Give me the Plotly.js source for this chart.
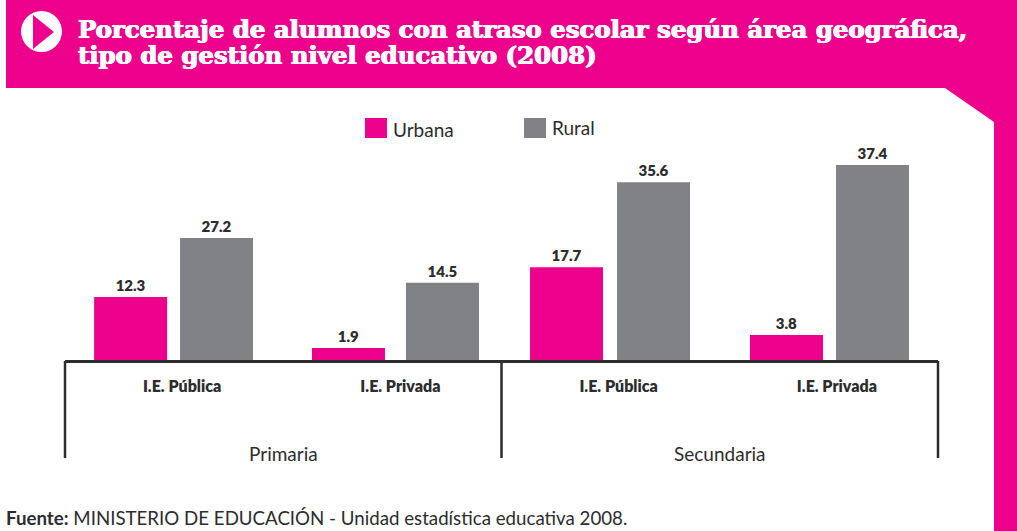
<!DOCTYPE html>
<html><head><meta charset="utf-8">
<script src="https://cdn.plot.ly/plotly-3.0.1.min.js"></script>
<style>html,body{margin:0;padding:0;background:#fff;overflow:hidden}</style>
</head><body><div id="chart" style="width:1017px;height:531px"></div>
<script>
const titleLines = ['Porcentaje de alumnos con atraso escolar según área geográfica,', 'tipo de gestión nivel educativo (2008)'];
const categories = ['Primaria · I.E. Pública', 'Primaria · I.E. Privada', 'Secundaria · I.E. Pública', 'Secundaria · I.E. Privada'];
const tickLabels = ['I.E. Pública', 'I.E. Privada', 'I.E. Pública', 'I.E. Privada'];
const groupLabels = ['Primaria', 'Secundaria'];
const seriesNames = ['Urbana', 'Rural'];
// Printed values, shown as the bar labels.
const urbanaValues = [12.3, 1.9, 17.7, 3.8];
const ruralValues = [27.2, 14.5, 35.6, 37.4];
// The reference's bars are not drawn strictly to scale with their printed labels,
// so these are the bar lengths, in axis units.
const urbanaDrawn = [12.6, 2.8, 18.3, 5.3];
const ruralDrawn = [23.4, 14.8, 34.1, 37.4];
const source = ['Fuente:', ' MINISTERIO DE EDUCACIÓN - Unidad estadística educativa 2008.'];

const W = 1017, H = 531, PINK = '#ec008c', GRAY = '#808285', INK = '#2d2c2e';
const m = {l: 65, r: 79, t: 110, b: 171};
const px = x => (x - m.l) / (W - m.l - m.r);
const py = y => 1 - (y - m.t) / (H - m.t - m.b);
const FONT = 'Lato, sans-serif', SLAB = '"DejaVu Serif", serif';
const SLOT = (W - m.l - m.r) / categories.length;
// Bar placement inside each category slot, in pixels from the slot centre.
const urbanaOffsets = [-80, -80.4, -80.6, -78.9].map(v => v / SLOT);
const ruralOffsets = [5.9, 13.6, 6.4, 7.1].map(v => v / SLOT);

const barTrace = (name, drawn, values, color, base, offset) => ({
  type: 'bar', name, x: categories, y: drawn, base, offset, width: 73 / SLOT,
  text: values.map(v => v.toFixed(1)), textposition: 'outside', cliponaxis: false,
  textfont: {family: FONT, size: 15, color: INK, weight: 800},
  marker: {color, line: {width: 0}}, showlegend: false, hoverinfo: 'skip'
});
const data = [
  barTrace(seriesNames[0], urbanaDrawn, urbanaValues, PINK, -0.5, urbanaOffsets),
  barTrace(seriesNames[1], ruralDrawn, ruralValues, GRAY, 0, ruralOffsets)
];

const poly = pts => 'M' + pts.map(p => px(p[0]) + ',' + py(p[1])).join('L') + 'Z';
const pr = {xref: 'paper', yref: 'paper', layer: 'below'};
const vline = x => ({...pr, type: 'line', x0: px(x), x1: px(x), y0: py(361), y1: py(458), line: {color: INK, width: 2.5}});
const shapes = [
  {...pr, type: 'path', path: poly([[6,-5],[1022,-5],[1022,536],[994,536],[994,122],[945,88],[6,88]]), fillcolor: PINK, line: {width: 0}},
  {...pr, type: 'circle', x0: px(21), x1: px(62), y0: py(11), y1: py(52), fillcolor: '#fff', line: {width: 0}},
  {...pr, type: 'path', path: poly([[33,15],[54,32],[33,49]]), fillcolor: PINK, line: {width: 0}},
  {...pr, type: 'rect', x0: px(365), x1: px(387), y0: py(118), y1: py(138), fillcolor: PINK, line: {width: 0}},
  {...pr, type: 'rect', x0: px(524), x1: px(546), y0: py(118), y1: py(138), fillcolor: GRAY, line: {width: 0}},
  vline(65), vline(501.5), vline(938)
];
const TITLE_SHADOW = '0.6px 0 0 #fff, -0.6px 0 0 #fff, 0 0.4px 0 #fff';
const note = (text, x, y, size, color, family, anchor, shadow) => ({
  text, xref: 'paper', yref: 'paper', x: px(x), y: py(y), xanchor: anchor || 'left', yanchor: 'middle',
  showarrow: false, font: {family: family || FONT, size, color, shadow: shadow || 'none'}
});
const annotations = [
  note('<b>' + titleLines[1] + '</b>', 76, 55, 24.4, '#fff', SLAB, 'left', TITLE_SHADOW),
  note(seriesNames[0], 391, 129, 19, INK),
  note(seriesNames[1], 549.5, 127, 19, INK),
  note(groupLabels[0], 283, 453, 19, INK, FONT, 'center'),
  note(groupLabels[1], 719.5, 453, 19, INK, FONT, 'center'),
  note('<b>' + source[0] + '</b>' + source[1], 4, 518, 18.7, INK)
];

Plotly.newPlot('chart', data, {
  width: W, height: H, margin: m, paper_bgcolor: '#fff', plot_bgcolor: 'rgba(0,0,0,0)',
  title: {text: '<b>' + titleLines[0] + '</b>', font: {family: SLAB, size: 24.4, color: '#fff', shadow: TITLE_SHADOW},
    x: 78 / W, xanchor: 'left', xref: 'container', y: 1 - 29 / H, yanchor: 'middle', yref: 'container'},
  barmode: 'overlay',
  showlegend: false,
  xaxis: {type: 'category', tickmode: 'array', tickvals: categories, ticktext: tickLabels,
    showline: true, linecolor: INK, linewidth: 3, ticks: '', showgrid: false, zeroline: false,
    layer: 'below traces', ticklabelstandoff: 10, ticklabelshift: 8, fixedrange: true,
    tickfont: {family: FONT, size: 16, color: INK, weight: 800}},
  yaxis: {range: [0, 47.95], visible: false, showgrid: false, zeroline: false, fixedrange: true},
  shapes, annotations
}, {displayModeBar: false, staticPlot: true});
</script></body></html>
